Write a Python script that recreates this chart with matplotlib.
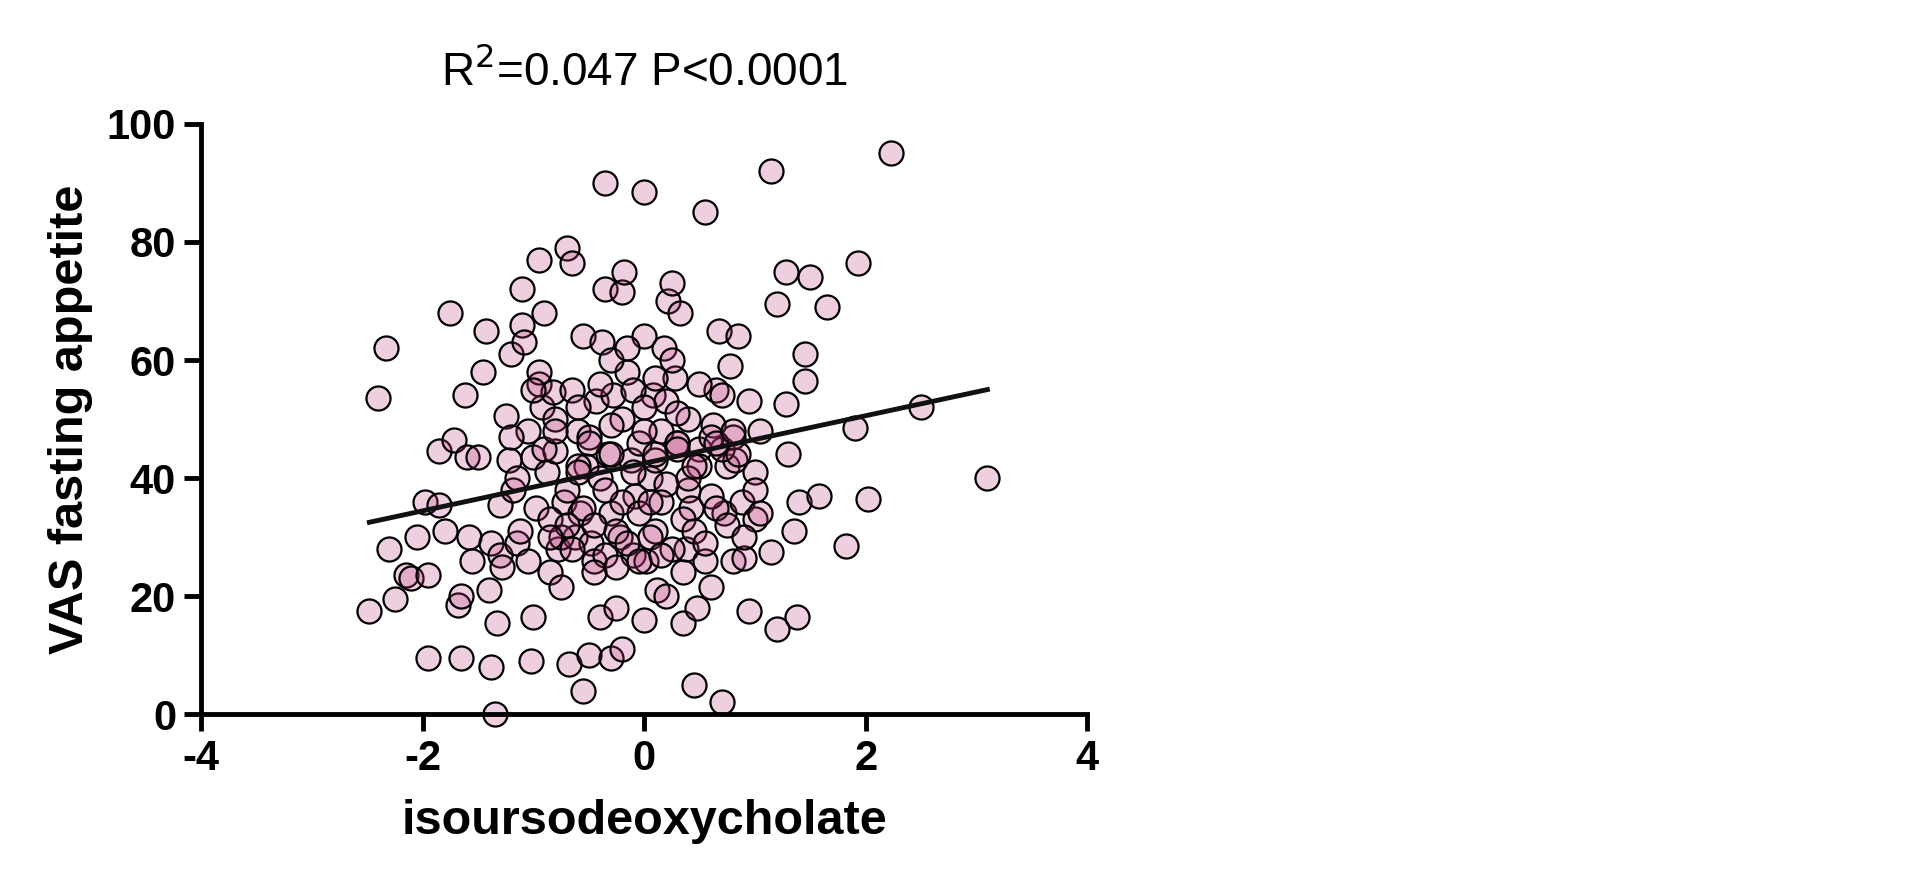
import matplotlib
matplotlib.use("Agg")
import matplotlib.pyplot as plt
import numpy as np

plt.rcParams['font.family'] = 'Liberation Sans'
plt.rcParams['axes.unicode_minus'] = False

x_vals = [-2.48,-2.4,-2.33,-2.3,-2.25,-2.15,-2.1,-2.05,-1.98,-1.95,-1.95,-1.85,-1.85,-1.8,-1.75,-1.72,-1.68,-1.65,-1.65,-1.62,-1.6,-1.58,-1.55,-1.5,-1.45,-1.43,-1.4,-1.38,-1.38,-1.35,-1.33,-1.3,-1.3,-1.28,-1.25,-1.22,-1.2,-1.18,-1.15,-1.12,-1.1,-1.1,-1.08,-1.05,-1.05,-1.02,-1.0,-1.0,-0.98,-0.95,-0.95,-0.92,-0.9,-0.88,-0.85,-0.82,-0.8,-0.78,-0.75,-0.72,-0.7,-0.68,-0.65,-0.65,-0.62,-0.6,-0.58,-0.55,-0.55,-0.52,-0.5,-0.48,-0.45,-0.43,-0.4,-0.38,-0.35,-0.35,-0.33,-0.3,-0.3,-0.28,-0.25,-0.22,-0.2,-0.2,-0.18,-0.15,-0.12,-0.1,-0.08,-0.05,0.0,0.0,0.0,0.02,0.05,0.08,0.1,0.12,0.15,0.18,0.2,0.22,0.25,0.28,0.3,0.32,0.35,0.38,0.4,0.42,0.45,0.48,0.5,0.55,0.55,0.6,0.62,0.65,0.68,0.7,0.72,0.75,0.78,0.8,0.82,0.85,0.88,0.9,0.95,0.95,1.0,1.05,1.0,1.15,1.15,1.2,1.2,1.28,1.28,1.3,1.35,1.38,1.4,1.45,1.45,1.5,1.58,1.65,1.82,1.9,1.93,2.02,2.23,2.5,3.1,
  -0.9,-0.8,-0.7,-0.6,-0.5,-0.4,-0.3,-0.2,-0.1,0.0,0.1,0.2,0.3,0.4,0.5,0.6,0.7,0.8,
  -0.85,-0.75,-0.65,-0.55,-0.45,-0.35,-0.25,-0.15,-0.05,0.05,0.15,0.25,0.35,0.45,0.55,0.65,0.75,0.9,
  -0.95,-0.6,-0.4,-0.3,-0.1,0.1,0.2,0.3,0.5,0.7,-1.15,-1.0,-0.8,-0.5,-0.2,0.0,0.3,0.6,0.85,1.0,
  -0.45,-0.25,-0.05,0.15,0.35,-0.7,-0.35,0.05,0.4,0.65,-0.15,0.25,-0.6,-0.3,0.45,0.1,-0.85,0.8,1.05,-1.2]
y_vals = [17.5,53.5,62,28,19.5,23.5,23,30,36,23.5,9.5,35.5,44.5,31,68,46.5,18.5,20,9.5,54,43.5,30,26,43.5,58,65,21,29,8,0,15.5,35.5,27,25,50.5,43,61,38,29,31,72,66,63,48,26,9,16.5,43.5,35,77,56,52,68,41,24,54.5,44.5,28,21.5,36,79,8.5,76.5,55,30,48,34,64,4,42,10,29,26,53,16.5,63,90,72,44,34,9.5,54,18,30,71.5,11,75,58,43,27,37,46,88.5,64,16,26,40,54,31,21,48,62,20,70,73,57,46,68,15.5,28,38,35,5,18,45,85,26,21.5,49,55,65,2,34,42,59,26,43,64,36,26.5,53,17.5,41,48,33,27.5,92,69.5,14.5,52.5,75,44,31,16.5,36,56.5,61,74,37,69,28.5,48.5,76.5,36.5,95,52,40,
  45,50,38,42,47,40,44,36,41,48,43,39,46,50,42,37,45,47,
  33,30,28,35,32,27,31,29,34,30,36,28,33,31,29,35,32,30,
  58,52,56,60,55,57,53,51,56,54,40,55,48,46,50,52,45,47,44,38,
  24,25,26,27,24,32,38,36,40,46,62,60,41,49,42,44,30,48,34,47]

line_slope = 4.03
line_intercept = 42.5
line_x = [-2.48, 3.1]

fig = plt.figure(figsize=(19.2, 8.73), dpi=100)
ax = fig.add_axes([0.1047, 0.182, 0.4615, 0.676])
ax.scatter(x_vals, y_vals, s=300, facecolor=(0.75, 0.25, 0.5, 0.25),
           edgecolor='black', linewidth=1.6, zorder=2, clip_on=False)
lx = np.array(line_x)
ax.plot(lx, line_slope * lx + line_intercept, color='#111111', lw=3.5, zorder=3)
ax.set_xlim(-4, 4)
ax.set_ylim(0, 100)
ax.set_xticks([-4, -2, 0, 2, 4])
ax.set_yticks([0, 20, 40, 60, 80, 100])
for s in ['top', 'right']:
    ax.spines[s].set_visible(False)
for s in ['left', 'bottom']:
    ax.spines[s].set_linewidth(3.5)
ax.tick_params(width=3.5, length=12, labelsize=30, pad=6)
for t in ax.get_xticklabels() + ax.get_yticklabels():
    t.set_fontweight('bold')
ax.set_xlabel('isoursodeoxycholate', fontsize=35, fontweight='bold', labelpad=14)
ax.set_ylabel('VAS fasting appetite', fontsize=35, fontweight='bold', labelpad=10)
ax.set_title('R$^2$=0.047 P<0.0001', fontsize=33, pad=28)
fig.savefig('out.png', dpi=100)
